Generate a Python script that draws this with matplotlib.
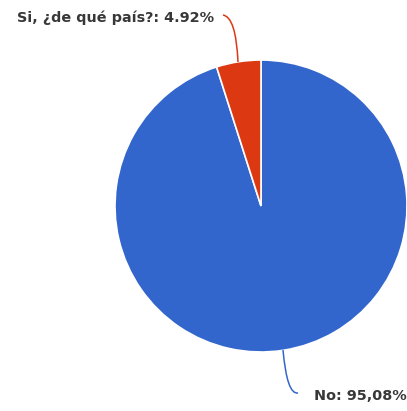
import matplotlib
matplotlib.use("Agg")
import matplotlib.pyplot as plt
from matplotlib.path import Path
from matplotlib.patches import PathPatch

labels = ["No", "Si, ¿de qué país?"]
values = [95.08, 4.92]
label_texts = ["No: 95,08%", "Si, ¿de qué país?: 4.92%"]
colors = ["#3366cc", "#dc3912"]

W, H = 407, 411
fig = plt.figure(figsize=(W / 100, H / 100), dpi=100)
ax = fig.add_axes([0, 0, 1, 1])

cx, cy, r = 261, H - 206, 146
ax.pie(values, colors=colors, startangle=90, counterclock=False,
       center=(cx, cy), radius=r, frame=True,
       wedgeprops=dict(edgecolor="white", linewidth=1.2))
ax.set_xlim(0, W)
ax.set_ylim(0, H)
ax.set_aspect("equal")
ax.axis("off")

# leader lines
def leader(pts, color):
    codes = [Path.MOVETO, Path.CURVE3, Path.CURVE3]
    ax.add_patch(PathPatch(Path(pts, codes), fill=False, edgecolor=color, lw=1.1))

leader([(223, H - 15), (236, H - 17), (238, H - 62)], colors[1])
leader([(283, H - 350), (287, H - 395), (298, H - 393)], colors[0])

ax.text(17, H - 18, label_texts[1], fontsize=10.4, color="#383838",
        fontweight="bold", va="center", ha="left", fontfamily="DejaVu Sans")
ax.text(314, H - 396, label_texts[0], fontsize=10.4, color="#383838",
        fontweight="bold", va="center", ha="left", fontfamily="DejaVu Sans")

fig.savefig("out.png", dpi=100)
